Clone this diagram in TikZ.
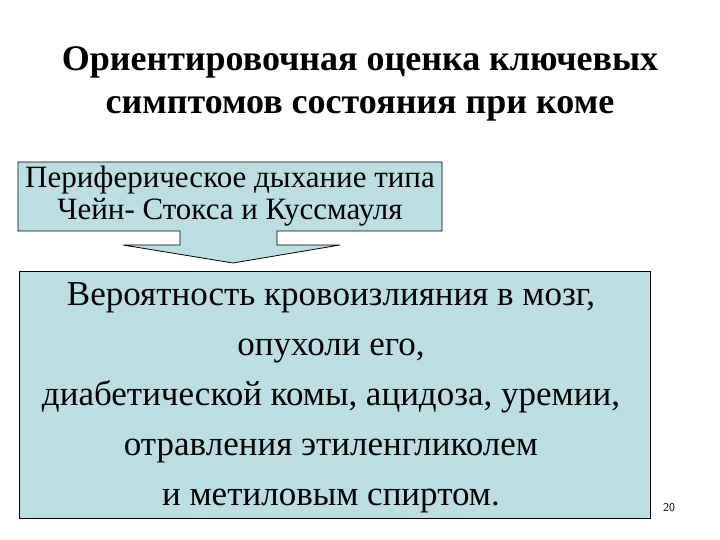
\documentclass[tikz,border=0pt]{standalone}
\usepackage{fontspec}
\setmainfont{Liberation Serif}
\usepackage{tikz}
\usetikzlibrary{positioning, calc}
\definecolor{boxblue}{RGB}{187,222,227}
\tikzset{
  panel/.style={draw=black, line width=0.8pt, fill=boxblue},
  bodytext/.style={align=center, text=black},
}
\begin{document}
\begin{tikzpicture}[x=1pt, y=-1pt]
  \useasboundingbox (0,0) rectangle (720,540);
  % heading
  \node [bodytext, font=\fontsize{36}{43}\selectfont\bfseries] (title) at (360,84)
    {Ориентировочная оценка ключевых\\симптомов состояния при коме};
  % callout with the arrow below it
  \coordinate (cnw) at (18,162);
  \coordinate (cse) at (442,231);
  \coordinate (tip) at (233,263);
  \filldraw [panel] (cnw) -- (cse |- cnw) -- (cse) -- (277,231) -- (277,245)
    -- (340,245) -- (tip) -- (123,245) -- (180,245) -- (180,231)
    -- (cnw |- cse) -- cycle;
  \node [bodytext, font=\fontsize{31}{32}\selectfont] (breath) at ($(cnw)!0.5!(cse)$)
    {Периферическое дыхание типа\\Чейн- Стокса и Куссмауля};
  % main box
  \draw [panel] (19,271) rectangle (650,518);
  \node [bodytext, font=\fontsize{35}{50}\selectfont] (cause) at (331,398)
    {Вероятность кровоизлияния в мозг,\\опухоли его,\\диабетической комы, ацидоза, уремии,\\отравления этиленгликолем\\и метиловым спиртом.};
  \node [font=\fontsize{12}{14}\selectfont\sffamily] (page) at (669,508) {20};
\end{tikzpicture}
\end{document}
